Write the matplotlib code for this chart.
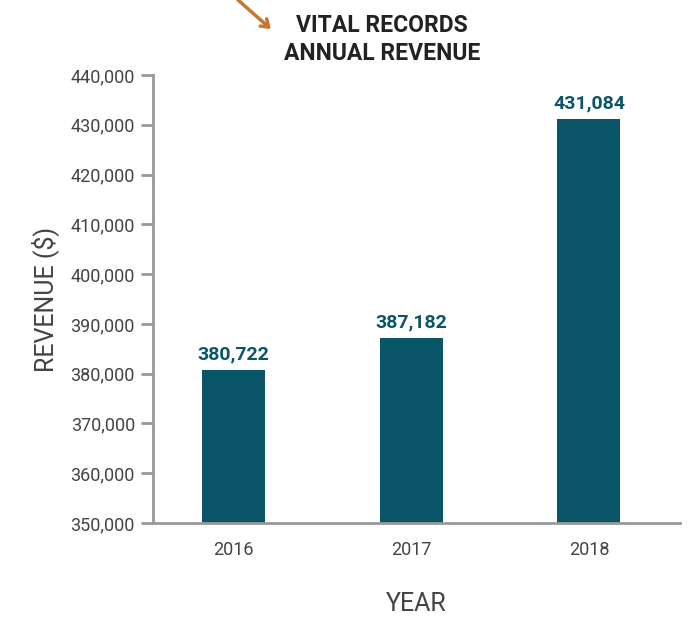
import matplotlib
matplotlib.use("Agg")
import matplotlib.pyplot as plt

years = ["2016", "2017", "2018"]
revenue = [380722, 387182, 431084]
value_labels = ["380,722", "387,182", "431,084"]
y_ticks = [350000, 360000, 370000, 380000, 390000, 400000, 410000, 420000, 430000, 440000]
y_tick_labels = ["350,000", "360,000", "370,000", "380,000", "390,000", "400,000",
                 "410,000", "420,000", "430,000", "440,000"]

plt.rcParams['font.family'] = ['Roboto', 'DejaVu Sans']

bar_color = "#0b5568"
spine_color = "#999999"
text_color = "#444444"

fig = plt.figure(figsize=(7.0, 6.18), dpi=100)
ax = fig.add_axes([0.2186, 0.1537, 0.971 - 0.2186, 0.8786 - 0.1537])

x = list(range(len(years)))
ax.bar(x, revenue, width=0.354, color=bar_color, zorder=2)
for xi, v, lab in zip(x, revenue, value_labels):
    ax.annotate(lab, (xi, v), xytext=(0, 5), textcoords="offset points",
                ha="center", va="bottom", fontsize=14, fontweight="bold",
                color=bar_color)

ax.set_xlim(-0.45, 2.51)
ax.set_ylim(350000, 440000)
ax.set_yticks(y_ticks)
ax.set_yticklabels(y_tick_labels)
ax.set_xticks(x)
ax.set_xticklabels(years)

for s in ["top", "right"]:
    ax.spines[s].set_visible(False)
for s in ["left", "bottom"]:
    ax.spines[s].set_color(spine_color)
    ax.spines[s].set_linewidth(2)

ax.tick_params(axis="y", length=9, width=2, color=spine_color, labelsize=13,
               labelcolor=text_color, pad=4)
ax.tick_params(axis="x", length=0, labelsize=13, labelcolor=text_color, pad=13)

ax.set_ylabel("REVENUE ($)", fontsize=18, color=text_color, labelpad=8)
ax.set_xlabel("YEAR", fontsize=18, color=text_color, labelpad=24)

fig.text(0.546, 0.936, "VITAL RECORDS\nANNUAL REVENUE", ha="center", va="center",
         fontsize=16.5, fontweight="bold", color="#222222", linespacing=1.3)

ax.annotate("", xy=(0.39, 0.95), xytext=(0.337, 1.003), xycoords="figure fraction",
            textcoords="figure fraction",
            arrowprops=dict(arrowstyle="->,head_length=0.5,head_width=0.35",
                            color="#c8782e", lw=2.5))

fig.savefig("out.png", dpi=100)
